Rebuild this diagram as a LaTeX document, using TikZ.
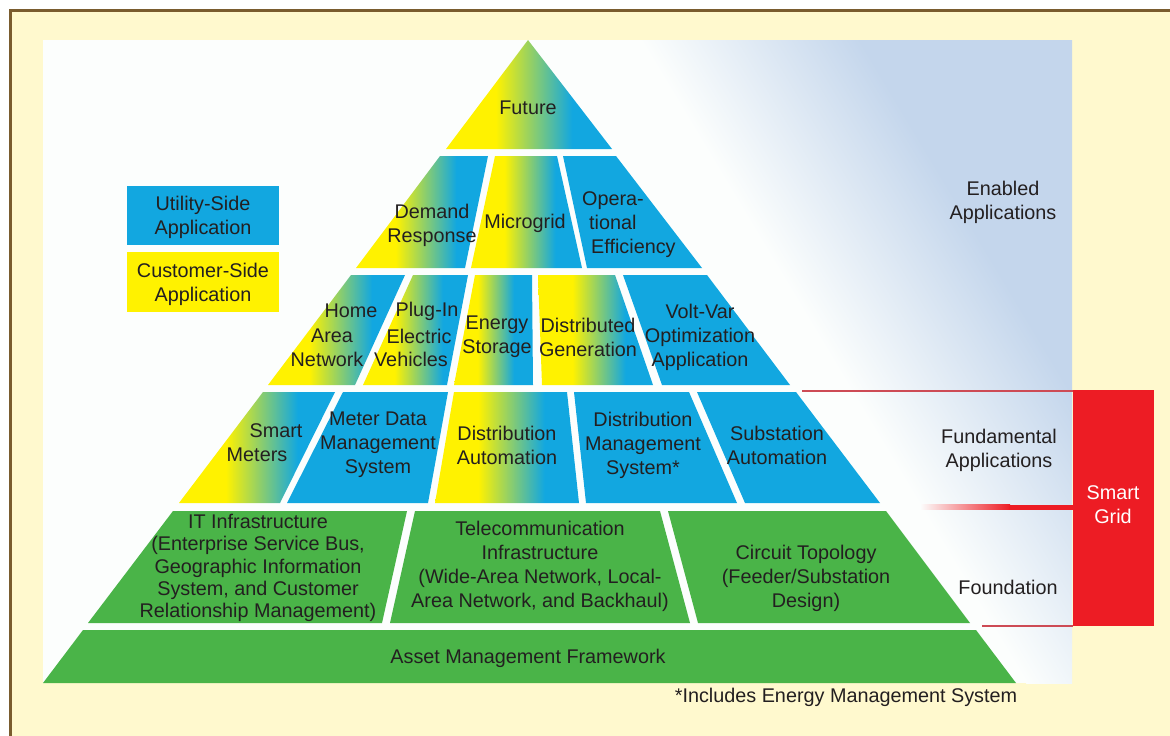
\documentclass[tikz,border=0pt]{standalone}
\usepackage{fontspec}
\newfontfamily\lbfamily{Liberation Sans}
\definecolor{cblu}{RGB}{18,167,224}
\definecolor{cyel}{RGB}{255,242,0}
\definecolor{cgrn}{RGB}{74,180,72}
\definecolor{cred}{RGB}{237,28,36}
\definecolor{cline}{RGB}{205,75,85}
\definecolor{ctext}{RGB}{35,31,32}
\definecolor{ccream}{RGB}{255,249,206}
\definecolor{cbrown}{RGB}{122,92,46}
\definecolor{cpanel}{RGB}{252,254,253}
\definecolor{cbg}{RGB}{196,214,236}
\pgfdeclarehorizontalshading{ybshade}{100bp}{color(0bp)=(cyel); color(40bp)=(cyel); color(63bp)=(cblu); color(100bp)=(cblu)}
\newcommand\lbfont{\lbfamily\fontsize{19.8}{24}\selectfont}
\newcommand\itfont{\lbfamily\fontsize{19.8}{22.3}\selectfont}
\begin{document}
\begin{tikzpicture}[x=1pt,y=-1pt,
  ybcell/.style={shading=ybshade},
  bcell/.style={fill=cblu},
  gcell/.style={fill=cgrn},
  lbl/.style={font=\lbfont, text=ctext, align=center, inner sep=0pt},
  redline/.style={draw=cline, line width=2pt},
]
\useasboundingbox (0,0) rectangle (1170,736);
% frame and panel
\fill[cbrown] (9,9) rectangle (1170,736);
\fill[ccream] (12,12) rectangle (1170,736);
\fill[cpanel] (43,40) rectangle (1072,683);
\begin{scope}
  \clip (43,40) rectangle (1072,683);
  \begin{scope}[transform canvas={xslant=-0.6}]
    \shade[left color=cpanel, right color=cbg] (616,0) rectangle (836,736);
    \fill[cbg] (835,0) rectangle (1500,736);
  \end{scope}
\end{scope}

% row 1
\shade[ybcell] (528,40) -- (612,149) -- (446,149) -- cycle;
% row 2
\shade[ybcell] (440,156) -- (488,156) -- (465,268) -- (356,268) -- cycle;
\shade[ybcell] (495,156) -- (557,156) -- (582,268) -- (471,268) -- cycle;
\fill[bcell]   (563,156) -- (616,156) -- (702,268) -- (587,268) -- cycle;
% row 3
\shade[ybcell] (351,275) -- (405,275) -- (355,385) -- (268,385) -- cycle;
\shade[ybcell] (413,275) -- (468,275) -- (447,385) -- (363,385) -- cycle;
\shade[ybcell] (475,275) -- (532,275) -- (533,385) -- (454,385) -- cycle;
\shade[ybcell] (538,275) -- (615,275) -- (653,385) -- (542,385) -- cycle;
\fill[bcell]   (623,275) -- (707,275) -- (790,385) -- (662,385) -- cycle;
% row 4
\shade[ybcell] (263,392) -- (335,392) -- (280,503) -- (179,503) -- cycle;
\fill[bcell]   (343,392) -- (448,392) -- (428,503) -- (287,503) -- cycle;
\shade[ybcell] (454,392) -- (567,392) -- (579,503) -- (435,503) -- cycle;
\fill[bcell]   (574,392) -- (689,392) -- (737,503) -- (586,503) -- cycle;
\fill[bcell]   (697,392) -- (796,392) -- (880,503) -- (745,503) -- cycle;
% row 5
\fill[gcell] (173,511) -- (407,511) -- (382,623) -- (88,623) -- cycle;
\fill[gcell] (415,511) -- (660,511) -- (690,623) -- (390,623) -- cycle;
\fill[gcell] (668,511) -- (886,511) -- (970,623) -- (698,623) -- cycle;
% row 6
\fill[gcell] (83,630) -- (976,630) -- (1016,683) -- (43,683) -- cycle;

% texts in pyramid
\node[lbl] (fut) at (528,108) {Future};
\node[lbl] (dr) at (432,225) {Demand\\Response};
\node[lbl] (mg) at (525,223) {Microgrid};
\node[lbl, align=left, anchor=west] (oe) at (582,225) {Opera-\\\hspace*{7pt}tional\\\hspace*{9pt}Efficiency};
\node[lbl] (han1) at (351,311) {Home};
\node[lbl] (han2) at (332,336) {Area};
\node[lbl] (han3) at (327,359) {Network};
\node[lbl] (pev1) at (427,311) {Plug-In};
\node[lbl] (pev2) at (419,336) {Electric};
\node[lbl] (pev3) at (411,359) {Vehicles};
\node[lbl] (es) at (497,337) {Energy\\Storage};
\node[lbl] (dg) at (588,337) {Distributed\\Generation};
\node[lbl] (vv) at (700,337) {Volt-Var\\Optimization\\Application};
\node[lbl] (sm1) at (276,431) {Smart};
\node[lbl] (sm2) at (257,455) {Meters};
\node[lbl] (mdms) at (378,445) {Meter Data\\Management\\System};
\node[lbl] (da) at (507,445) {Distribution\\Automation};
\node[lbl] (dms) at (643,445) {Distribution\\Management\\System*};
\node[lbl] (sa) at (777,445) {Substation\\Automation};
\node[lbl, font=\itfont] (it) at (258,568) {IT Infrastructure\\(Enterprise Service Bus,\\Geographic Information\\System, and Customer\\Relationship Management)};
\node[lbl] (tel) at (540,566) {Telecommunication\\Infrastructure\\(Wide-Area Network, Local-\\Area Network, and Backhaul)};
\node[lbl] (ct) at (806,578) {Circuit Topology\\(Feeder/Substation\\Design)};
\node[lbl] (amf) at (528,658) {Asset Management Framework};

% legend
\fill[cblu] (127,186) rectangle (279,245);
\node[lbl] (lgu) at (203,217) {Utility-Side\\Application};
\fill[cyel] (127,252) rectangle (279,312);
\node[lbl] (lgc) at (203,284) {Customer-Side\\Application};

% right side
\node[lbl] (ea) at (1003,202) {Enabled\\Applications};
\node[lbl] (fa) at (999,450) {Fundamental\\Applications};
\node[lbl] (fd) at (1008,587) {Foundation};
\coordinate (l1a) at (802,391);
\coordinate (l1b) at (1073,391);
\coordinate (l3a) at (982,626);
\coordinate (l3b) at (1073,626);
\draw[redline] (l1a) -- (l1b);
\draw[redline] (l3a) -- (l3b);
\shade[left color=cpanel, right color=cred] (920,504.5) rectangle (1010,509.5);
\fill[cred] (1009,504.5) rectangle (1074,509.5);
\fill[cred] (1073,390) rectangle (1154,626);
\node[lbl, text=white] (sg) at (1113,505) {Smart\\Grid};

% footnote
\node[lbl] (fn) at (846,697) {*Includes Energy Management System};
\end{tikzpicture}
\end{document}
